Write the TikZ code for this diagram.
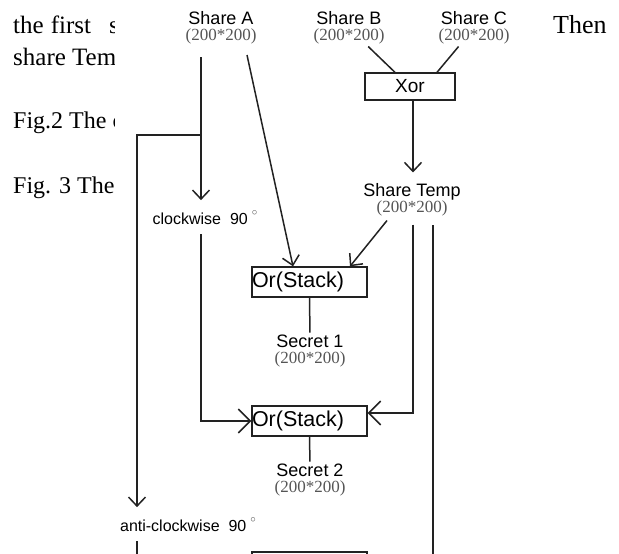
\documentclass[tikz,border=0pt]{standalone}
\usepackage{fontspec}
\setmainfont{Liberation Serif}
\setsansfont{Liberation Sans}
\usetikzlibrary{arrows.meta, positioning}
\definecolor{inkline}{HTML}{222222}
\definecolor{dimtext}{HTML}{555555}
\newcommand{\dimsize}[1]{{\rmfamily\fontsize{17}{17}\selectfont\color{dimtext}#1}}
\newcommand{\degsign}{\hspace{4pt}\raisebox{9pt}{\color{dimtext}\fontsize{11}{11}\selectfont$\circ$}}

\begin{document}
\begin{tikzpicture}[
  x=1pt, y=-1pt,
  every node/.style={font=\sffamily},
  lbl/.style={align=center, inner sep=2pt, font=\sffamily\fontsize{18}{16}\selectfont},
  opbox/.style={draw=inkline, line width=1.3pt, text width=115pt, align=left,
                minimum height=30pt, inner sep=0pt, font=\sffamily\fontsize{21.5}{22}\selectfont},
  rot/.style={inner sep=0pt, outer ysep=10pt, font=\sffamily\fontsize{16}{16}\selectfont},
  line/.style={line width=1.5pt, color=inkline},
  arr/.style={line, -{Straight Barb[length=9pt, width=17pt]}},
  bigarr/.style={line, -{Straight Barb[length=12pt, width=24pt]}},
  paper/.style={anchor=base west, inner sep=0pt, font=\rmfamily\fontsize{24}{24}\selectfont},
]
\useasboundingbox (0,0) rectangle (619,554);
\clip (0,0) rectangle (619,554);

% page text round the figure
\begin{scope}
  \clip (0,0) rectangle (114,554);
  \node[paper, font=\rmfamily\fontsize{25}{25}\selectfont] (txtA) at (13,33) {the\hspace{7pt}first\hspace{18pt}step};
  \node[paper, font=\rmfamily\fontsize{25}{25}\selectfont] (txtB) at (13,65) {share Temp};
  \node[paper] (txtC) at (13,128) {Fig.2 The c};
  \node[paper] (txtD) at (13,193) {Fig. 3 The};
\end{scope}
\node[paper, font=\rmfamily\fontsize{26}{26}\selectfont] (txtE) at (553,33) {Then};

% shares
\node[lbl] (shareA) at (221,28) {Share A\\\dimsize{(200*200)}};
\node[lbl] (shareB) at (349,28) {Share B\\\dimsize{(200*200)}};
\node[lbl] (shareC) at (474,28) {Share C\\\dimsize{(200*200)}};
\node[draw=inkline, line width=1.3pt, minimum width=90pt, minimum height=27pt,
      font=\sffamily\fontsize{19}{19}\selectfont] (xor) at (410,86.5) {Xor};
\node[lbl] (stemp) at (412,200) {Share Temp\\\dimsize{(200*200)}};

% stacking
\node[opbox] (orA) at (309.5,282) {Or(Stack)};
\node[lbl] (secA) at (310,351) {Secret 1\\\dimsize{(200*200)}};
\node[opbox] (orB) at (309.5,421) {Or(Stack)};
\node[lbl] (secB) at (310,480) {Secret 2\\\dimsize{(200*200)}};
\node[opbox] (orC) at (309.5,567) {};

% rotations
\node[rot, anchor=base] (cw) at (205,224) {clockwise\ \ 90\degsign};
\node[rot, anchor=base] (acw) at (188,531) {anti-clockwise\ \ 90\degsign};

\coordinate (aTop) at (201,57);
\coordinate (aSplit) at (201,135);
\coordinate (lTurn) at (137,135);
\coordinate (aSlant) at (247,55);
\coordinate (tTop) at (433,225);
\coordinate (tFar) at (433,600);

% connectors
\draw[line] (shareB) -- ([xshift=-15pt]xor.north);
\draw[line] (shareC) -- ([xshift=27pt]xor.north);
\draw[arr, shorten >=9pt] ([xshift=3pt]xor.south) -- ([xshift=3pt]xor.south |- stemp.north);
\draw[line] (aTop) -- (aSplit);
\draw[arr] (aSplit) -- (aSplit |- cw.north);
\draw[arr] (aSplit) -- (lTurn) -- (lTurn |- acw.north);
\draw[arr] (aSlant) -- ([xshift=-16.5pt]orA.north);
\draw[arr] ([xshift=-25pt,yshift=-2pt]stemp.south) -- ([xshift=40.5pt]orA.north);
\draw[bigarr] (aSplit |- cw.south) |- (orB.west);
\draw[bigarr] ([xshift=1pt,yshift=-6pt]stemp.south) |- ([yshift=8pt]orB.east);
\draw[line] (tTop) -- (tFar);
\draw[line] (orA) -- (secA);
\draw[line] (orB) -- (secB);
\draw[line] (lTurn |- acw.south) -- (lTurn |- orC.south);

\end{tikzpicture}
\end{document}
